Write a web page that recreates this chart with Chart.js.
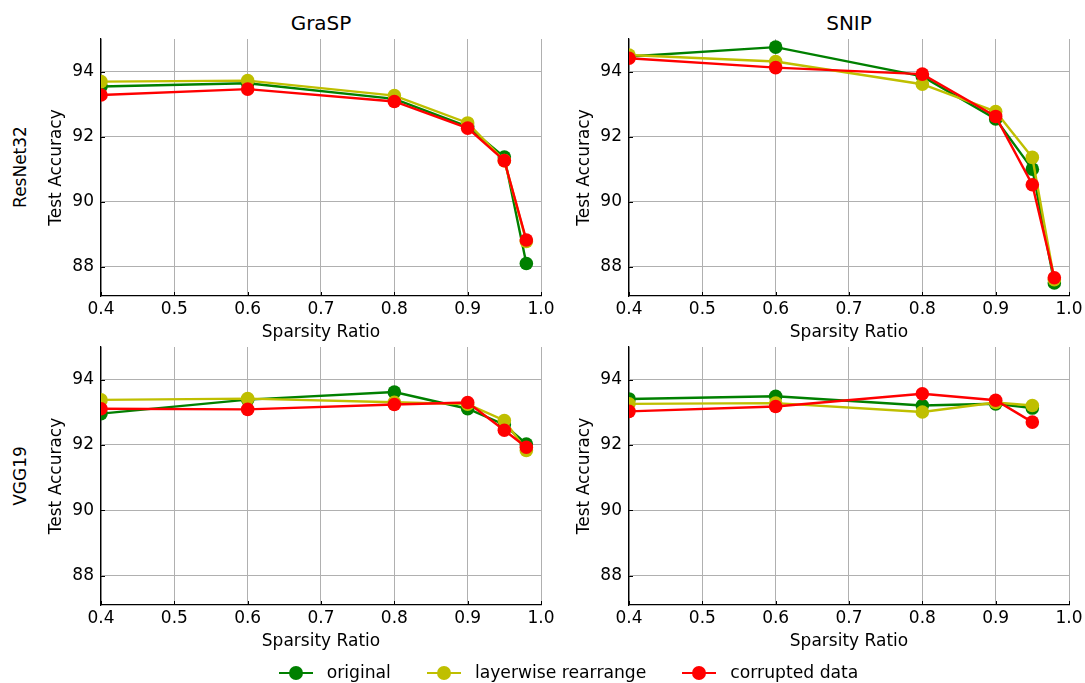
<!DOCTYPE html>
<html>
<head>
<meta charset="utf-8">
<script src="https://cdn.jsdelivr.net/npm/chart.js@4.4.1/dist/chart.umd.min.js"></script>
<style>
  body { margin: 0; background: #fff; width: 1085px; height: 683px; position: relative; overflow: hidden;
         font-family: "DejaVu Sans", sans-serif; color: #000; }
  canvas { position: absolute; }
  .title { position: absolute; font-size: 20px; line-height: 1; transform: translate(-50%, -50%); white-space: nowrap; }
  .row { position: absolute; font-size: 17px; line-height: 1; transform: translate(-50%, -50%) rotate(-90deg); white-space: nowrap; }
  #legend { position: absolute; left: 26px; width: 1085px; top: 663px; height: 20px; display: flex;
            justify-content: center; align-items: center; font-size: 17.2px; line-height: 1; }
  .item { display: flex; align-items: center; margin: 0 18px; }
  .handle { position: relative; width: 34px; height: 2.5px; margin-right: 14px; }
  .handle i { position: absolute; left: 10px; top: -5.5px; width: 14px; height: 14px; border-radius: 50%; }
</style>
</head>
<body>
<div class="title" style="left:321px; top:23px">GraSP</div>
<div class="title" style="left:849px; top:23px">SNIP</div>
<div class="row" style="left:20px; top:167px">ResNet32</div>
<div class="row" style="left:20px; top:476px">VGG19</div>
<canvas id="c-grasp-resnet"></canvas>
<canvas id="c-snip-resnet"></canvas>
<canvas id="c-grasp-vgg"></canvas>
<canvas id="c-snip-vgg"></canvas>
<div id="legend"></div>
<script>
// x 值（稀疏率）與刻度
const sparsity = [0.4, 0.6, 0.8, 0.9, 0.95, 0.98];
const sparsitySnipVgg = [0.4, 0.6, 0.8, 0.9, 0.95];
const xTicks = [0.4, 0.5, 0.6, 0.7, 0.8, 0.9, 1.0];
const yTicks = [88, 90, 92, 94];

const seriesNames = ['original', 'layerwise rearrange', 'corrupted data'];
const seriesColors = ['#008000', '#bfbf00', '#ff0000'];

// GraSP / ResNet32
const graspResnetOriginal  = [93.54, 93.64, 93.16, 92.31, 91.37, 88.10];
const graspResnetLayerwise = [93.69, 93.72, 93.26, 92.42, 91.26, 88.78];
const graspResnetCorrupted = [93.28, 93.46, 93.08, 92.26, 91.26, 88.82];
// SNIP / ResNet32
const snipResnetOriginal  = [94.46, 94.75, 93.85, 92.54, 91.00, 87.50];
const snipResnetLayerwise = [94.51, 94.31, 93.61, 92.77, 91.36, 87.60];
const snipResnetCorrupted = [94.41, 94.12, 93.92, 92.62, 90.52, 87.66];
// GraSP / VGG19
const graspVggOriginal  = [92.96, 93.39, 93.62, 93.11, 92.62, 92.03];
const graspVggLayerwise = [93.38, 93.42, 93.31, 93.25, 92.75, 91.83];
const graspVggCorrupted = [93.11, 93.09, 93.24, 93.30, 92.45, 91.93];
// SNIP / VGG19
const snipVggOriginal  = [93.41, 93.49, 93.21, 93.26, 93.13];
const snipVggLayerwise = [93.26, 93.28, 93.01, 93.30, 93.21];
const snipVggCorrupted = [93.03, 93.18, 93.57, 93.37, 92.70];

Chart.defaults.font.family = '"DejaVu Sans", sans-serif';
Chart.defaults.color = '#000';

const PAD_L = 61, PAD_T = 19, PAD_R = 19, X_AXIS_H = 54;
const font = { size: 17 };

// matplotlib 風格：刻度線朝內
const innerTicks = {
    id: 'innerTicks',
    afterDatasetsDraw(chart) {
        const { ctx, chartArea: a, scales: { x, y } } = chart;
        ctx.save();
        ctx.strokeStyle = '#000';
        ctx.lineWidth = 1;
        ctx.beginPath();
        xTicks.forEach(v => {
            const px = Math.round(x.getPixelForValue(v)) + 0.5;
            ctx.moveTo(px, a.bottom); ctx.lineTo(px, a.bottom - 4);
        });
        yTicks.forEach(v => {
            const py = Math.round(y.getPixelForValue(v)) + 0.5;
            ctx.moveTo(a.left, py); ctx.lineTo(a.left + 4, py);
        });
        ctx.stroke();
        ctx.restore();
    }
};

function makePanel(id, area, xs, series) {
    const cv = document.getElementById(id);
    const w = area.right - area.left + PAD_L + PAD_R;
    const h = area.bottom - area.top + PAD_T + X_AXIS_H;
    cv.width = w; cv.height = h;
    cv.style.left = (area.left - PAD_L) + 'px';
    cv.style.top = (area.top - PAD_T) + 'px';
    cv.style.width = w + 'px'; cv.style.height = h + 'px';

    new Chart(cv.getContext('2d'), {
        type: 'line',
        data: {
            datasets: series.map((vals, i) => ({
                label: seriesNames[i],
                data: xs.map((x, j) => ({ x: x, y: vals[j] })),
                borderColor: seriesColors[i],
                backgroundColor: seriesColors[i],
                pointBackgroundColor: seriesColors[i],
                pointBorderColor: seriesColors[i],
                borderWidth: 2.4,
                pointRadius: 6.8,
                pointBorderWidth: 0,
                tension: 0,
                clip: 0,
                order: series.length - i   // 紅線畫在最上層
            }))
        },
        options: {
            responsive: false,
            animation: false,
            events: [],
            layout: { padding: { left: 0, top: PAD_T, right: PAD_R, bottom: 0 } },
            plugins: { legend: { display: false }, tooltip: { enabled: false } },
            scales: {
                x: {
                    type: 'linear', min: 0.4, max: 1.0,
                    afterBuildTicks: s => { s.ticks = xTicks.map(v => ({ value: v })); },
                    afterFit: s => { s.height = X_AXIS_H; },
                    ticks: { font, color: '#000', padding: 3, maxRotation: 0, autoSkip: false,
                             callback: v => v.toFixed(1) },
                    grid: { color: '#b0b0b0', lineWidth: 1, drawTicks: false },
                    border: { color: '#000', width: 1.25 },
                    title: { display: true, text: 'Sparsity Ratio', font, color: '#000',
                             padding: { top: 0, bottom: 7 } }
                },
                y: {
                    min: 87.1, max: 95,
                    afterBuildTicks: s => { s.ticks = yTicks.map(v => ({ value: v })); },
                    afterFit: s => { s.width = PAD_L; },
                    ticks: { font, color: '#000', padding: 7 },
                    grid: { color: '#b0b0b0', lineWidth: 1, drawTicks: false },
                    border: { color: '#000', width: 1.25 },
                    title: { display: true, text: 'Test Accuracy', font, color: '#000',
                             padding: { top: 6.5, bottom: 0 } }
                }
            }
        },
        plugins: [innerTicks]
    });
}

makePanel('c-grasp-resnet', { left: 101, right: 541, top: 39, bottom: 296 }, sparsity,
    [graspResnetOriginal, graspResnetLayerwise, graspResnetCorrupted]);
makePanel('c-snip-resnet', { left: 629, right: 1069, top: 39, bottom: 296 }, sparsity,
    [snipResnetOriginal, snipResnetLayerwise, snipResnetCorrupted]);
makePanel('c-grasp-vgg', { left: 101, right: 541, top: 347, bottom: 605 }, sparsity,
    [graspVggOriginal, graspVggLayerwise, graspVggCorrupted]);
makePanel('c-snip-vgg', { left: 629, right: 1069, top: 347, bottom: 605 }, sparsitySnipVgg,
    [snipVggOriginal, snipVggLayerwise, snipVggCorrupted]);

// 圖例（置於底部）
const legend = document.getElementById('legend');
seriesNames.forEach((name, i) => {
    const item = document.createElement('div');
    item.className = 'item';
    item.innerHTML = '<span class="handle" style="background:' + seriesColors[i] +
        '"><i style="background:' + seriesColors[i] + '"></i></span><span>' + name + '</span>';
    legend.appendChild(item);
});
</script>
</body>
</html>
